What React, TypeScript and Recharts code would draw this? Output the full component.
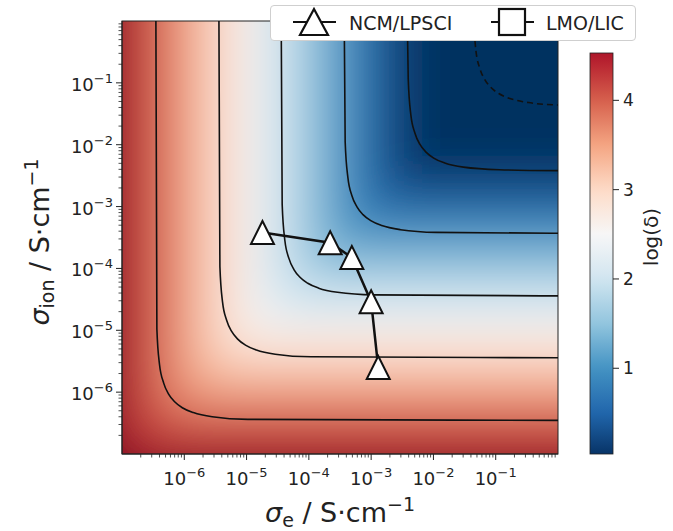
import React from 'react';
import { ComposedChart, Line, XAxis, YAxis, ReferenceArea } from 'recharts';

const FONT = '"DejaVu Sans", sans-serif';
const INK = '#222';

// axes (S/cm), both log
const sigmaDomain = [1e-7, 1];
const majorTicks = [1e-6, 1e-5, 1e-4, 1e-3, 1e-2, 1e-1];
const majorTickLabels = ['−6', '−5', '−4', '−3', '−2', '−1'];
const minorTicks: number[] = [];
for (let k = -7; k < 0; k++) {
  for (let m = 2; m < 10; m++) minorTicks.push(m * Math.pow(10, k));
}
const allTicks = [...minorTicks, ...majorTicks].sort((a, b) => a - b);

// NCM/LPSCI points
const ncmSigmaE = [1.8e-5, 2.2e-4, 4.9e-4, 1.0e-3, 1.3e-3];
const ncmSigmaIon = [3.8e-4, 2.6e-4, 1.5e-4, 2.9e-5, 2.5e-6];

// log(delta) at the map edge vs. log of the limiting conductivity
const profileLogSigma = [-7, -6.5, -6, -5.5, -5, -4.5, -4, -3.5, -3, -2.5, -2, -1.5, -1, -0.5, 0];
const profileLogDelta = [4.55, 4.05, 3.55, 3.05, 2.55, 2.05, 1.55, 1.05, 0.55, 0.05, -0.45, -0.95, -1.45, -1.95, -2.45];

// iso-lines of log(delta): [sigma_e, sigma_ion]
const contourLevels = [4, 3, 2, 1, 0, -1];
const contour4 = [[3.5e-7, 1], [3.63e-7, 1.05e-5], [4.0e-7, 2.8e-6], [4.67e-7, 1.4e-6], [5.6e-7, 9.3e-7], [7.0e-7, 7.0e-7], [9.3e-7, 5.6e-7], [1.4e-6, 4.67e-7], [2.8e-6, 4.0e-7], [1.05e-5, 3.63e-7], [1, 3.5e-7]];
const contour3 = [[3.6e-6, 1], [3.73e-6, 1.08e-4], [4.11e-6, 2.88e-5], [4.8e-6, 1.44e-5], [5.76e-6, 9.6e-6], [7.2e-6, 7.2e-6], [9.6e-6, 5.76e-6], [1.44e-5, 4.8e-6], [2.88e-5, 4.11e-6], [1.08e-4, 3.73e-6], [1, 3.6e-6]];
const contour2 = [[3.6e-5, 1], [3.73e-5, 1.08e-3], [4.11e-5, 2.88e-4], [4.8e-5, 1.44e-4], [5.76e-5, 9.6e-5], [7.2e-5, 7.2e-5], [9.6e-5, 5.76e-5], [1.44e-4, 4.8e-5], [2.88e-4, 4.11e-5], [1.08e-3, 3.73e-5], [1, 3.6e-5]];
const contour1 = [[3.7e-4, 1], [3.83e-4, 1.11e-2], [4.23e-4, 2.96e-3], [4.93e-4, 1.48e-3], [5.92e-4, 9.87e-4], [7.4e-4, 7.4e-4], [9.87e-4, 5.92e-4], [1.48e-3, 4.93e-4], [2.96e-3, 4.23e-4], [1.11e-2, 3.83e-4], [1, 3.7e-4]];
const contour0 = [[3.81e-3, 1], [3.94e-3, 0.114], [4.34e-3, 3.04e-2], [5.07e-3, 1.52e-2], [6.08e-3, 1.01e-2], [7.6e-3, 7.6e-3], [1.01e-2, 6.08e-3], [1.52e-2, 5.07e-3], [3.04e-2, 4.34e-3], [0.114, 3.94e-3], [1, 3.81e-3]];
const contourM1 = [[4.38e-2, 1], [4.8e-2, 0.336], [5.6e-2, 0.168], [6.72e-2, 0.112], [8.4e-2, 8.4e-2], [0.112, 6.72e-2], [0.168, 5.6e-2], [0.336, 4.8e-2], [1, 4.38e-2]];
const contourPaths = [contour4, contour3, contour2, contour1, contour0, contourM1];

// colour scale
const normRange = [0, 5];
const cbarRange = [0.04, 4.53];
const cbarTicks = [1, 2, 3, 4];
const rdbuR = ['#053061', '#2166ac', '#4393c3', '#92c5de', '#d1e5f0', '#f7f7f7', '#fddbc7', '#f4a582', '#d6604d', '#b2182b', '#67001f'];

const hex = (c: string) => [1, 3, 5].map((i) => parseInt(c.slice(i, i + 2), 16));
function cmap(v: number) {
  let t = (v - normRange[0]) / (normRange[1] - normRange[0]);
  t = Math.max(0, Math.min(1, t));
  const p = t * (rdbuR.length - 1);
  const i = Math.min(rdbuR.length - 2, Math.floor(p));
  const f = p - i;
  const a = hex(rdbuR[i]);
  const b = hex(rdbuR[i + 1]);
  return `rgb(${a.map((x, j) => Math.round(x + (b[j] - x) * f)).join(',')})`;
}
// value of the edge profile; straight continuation past the ends (only used in the blur margin)
function profileAt(s: number) {
  const n = profileLogSigma.length;
  let i = 0;
  while (i < n - 2 && s > profileLogSigma[i + 1]) i++;
  const s0 = profileLogSigma[i];
  const s1 = profileLogSigma[i + 1];
  const f = (s - s0) / (s1 - s0);
  return profileLogDelta[i] + f * (profileLogDelta[i + 1] - profileLogDelta[i]);
}

const logMin = Math.log10(sigmaDomain[0]);
const logMax = Math.log10(sigmaDomain[1]);

const ncmData = ncmSigmaE.map((e, i) => ({ e, ion: ncmSigmaIon[i] }));
const contourData = contourPaths.map((pts) => pts.map(([e, ion]) => ({ e, ion })));

const HeatShape = (props: any) => {
  const { x, y, width: w, height: h } = props;
  if (!(w > 0) || !(h > 0)) return null;
  const span = logMax - logMin;
  const m = 100;
  const k = h / w;
  const n = 80;
  const eStops = [];
  const ionStops = [];
  for (let i = 0; i <= n; i++) {
    const o = i / n;
    const px = x - m + o * (w + 2 * m);
    const sE = logMin + ((px - x) / w) * span;
    eStops.push(<stop key={i} offset={o} stopColor={cmap(profileAt(sE))} />);
    const py = y - m + o * (h + 2 * m);
    const sI = logMax - ((py - y) / h) * span;
    ionStops.push(<stop key={i} offset={o} stopColor={cmap(profileAt(sI))} />);
  }
  return (
    <g>
      <defs>
        <linearGradient id="gradSigmaE" gradientUnits="userSpaceOnUse" x1={x - m} y1={0} x2={x + w + m} y2={0}>
          {eStops}
        </linearGradient>
        <linearGradient id="gradSigmaIon" gradientUnits="userSpaceOnUse" x1={0} y1={y - m} x2={0} y2={y + h + m}>
          {ionStops}
        </linearGradient>
        <filter id="heatBlur" filterUnits="userSpaceOnUse" x={x - m} y={y - m} width={w + 2 * m} height={h + 2 * m}>
          <feGaussianBlur stdDeviation={26} />
        </filter>
        <clipPath id="heatClip">
          <rect x={x} y={y} width={w} height={h} />
        </clipPath>
      </defs>
      <g clipPath="url(#heatClip)">
        <g filter="url(#heatBlur)">
          <rect x={x - m} y={y - m} width={w + 2 * m} height={h + 2 * m} fill="url(#gradSigmaE)" />
          <polygon
            points={`${x - m},${y + h + m * k} ${x + w + m},${y + h + m} ${x + w + m},${y - m * k}`}
            fill="url(#gradSigmaIon)"
          />
        </g>
      </g>
      <rect x={x} y={y} width={w} height={h} fill="none" stroke={INK} strokeWidth={1} />
    </g>
  );
};

const CbarShape = (props: any) => {
  const { x, y, width, height } = props;
  if (!(width > 0) || !(height > 0)) return null;
  const n = 40;
  const stops = [];
  for (let i = 0; i <= n; i++) {
    const v = cbarRange[1] - ((cbarRange[1] - cbarRange[0]) * i) / n;
    stops.push(<stop key={i} offset={i / n} stopColor={cmap(v)} />);
  }
  return (
    <g>
      <defs>
        <linearGradient id="gradCbar" x1="0" y1="0" x2="0" y2="1">
          {stops}
        </linearGradient>
      </defs>
      <rect x={x} y={y} width={width} height={height} fill="url(#gradCbar)" stroke={INK} strokeWidth={0.8} />
    </g>
  );
};

const LogTick = (props: any) => {
  const { x, y, payload, axis } = props;
  const idx = majorTicks.indexOf(payload.value);
  const major = idx >= 0;
  const len = major ? 6 : 3.5;
  if (axis === 'x') {
    return (
      <g>
        <line x1={x} x2={x} y1={y} y2={y + len} stroke={INK} strokeWidth={major ? 1 : 0.8} />
        {major && (
          <text x={x} y={y + 31} textAnchor="middle" fontSize={18} fill={INK} fontFamily={FONT}>
            10<tspan dy={-8} fontSize={13}>{majorTickLabels[idx]}</tspan>
          </text>
        )}
      </g>
    );
  }
  return (
    <g>
      <line x1={x} x2={x - len} y1={y} y2={y} stroke={INK} strokeWidth={major ? 1 : 0.8} />
      {major && (
        <text x={x - 9} y={y + 8} textAnchor="end" fontSize={18} fill={INK} fontFamily={FONT}>
          10<tspan dy={-8} fontSize={13}>{majorTickLabels[idx]}</tspan>
        </text>
      )}
    </g>
  );
};

const TriangleDot = (props: any) => {
  const { cx, cy } = props;
  if (cx == null || cy == null) return null;
  const h = 11.5;
  return (
    <polygon
      points={`${cx},${cy - h} ${cx - h},${cy + h} ${cx + h},${cy + h}`}
      fill="#fff"
      stroke="#111"
      strokeWidth={2}
    />
  );
};

const Legend = () => (
  <div
    style={{
      position: 'absolute',
      left: 270,
      top: 5,
      width: 364,
      height: 34,
      border: '1px solid #cfcfcf',
      borderRadius: 4,
      background: '#fff',
    }}
  >
    <svg width={364} height={34} style={{ display: 'block' }}>
      <line x1={22} x2={65} y1={16} y2={16} stroke="#111" strokeWidth={2} />
      <polygon points="43,3 29,29 57,29" fill="#fff" stroke="#111" strokeWidth={2.2} />
      <text x={78} y={23.5} fontSize={19} fontFamily={FONT} fill={INK}>NCM/LPSCI</text>
      <line x1={220} x2={263} y1={16} y2={16} stroke="#111" strokeWidth={2} />
      <rect x={228} y={3} width={26} height={26} fill="#fff" stroke="#111" strokeWidth={2.2} />
      <text x={275} y={23.5} fontSize={19} fontFamily={FONT} fill={INK}>LMO/LIC</text>
    </svg>
  </div>
);

const cbarFrame = [{ x: 0 }, { x: 1 }];

export default function App() {
  return (
    <div style={{ position: 'absolute', left: 0, top: 0, width: 673, height: 531, background: '#fff', fontFamily: FONT }}>
      <ComposedChart width={673} height={531} margin={{ top: 21, right: 115, bottom: 0, left: 0 }}>
        <XAxis
          type="number"
          dataKey="e"
          scale="log"
          domain={sigmaDomain}
          allowDataOverflow
          ticks={allTicks}
          interval={0}
          tickLine={false}
          tickSize={0}
          tickMargin={0}
          height={77}
          axisLine={{ stroke: INK }}
          tick={(p: any) => <LogTick {...p} axis="x" />}
        />
        <YAxis
          type="number"
          dataKey="ion"
          scale="log"
          domain={sigmaDomain}
          allowDataOverflow
          ticks={allTicks}
          interval={0}
          tickLine={false}
          tickSize={0}
          tickMargin={0}
          width={122}
          axisLine={{ stroke: INK }}
          tick={(p: any) => <LogTick {...p} axis="y" />}
        />
        <ReferenceArea x1={sigmaDomain[0]} x2={sigmaDomain[1]} y1={sigmaDomain[0]} y2={sigmaDomain[1]} shape={HeatShape} />
        {contourData.map((pts, i) => (
          <Line
            key={i}
            data={pts}
            dataKey="ion"
            type="monotone"
            stroke="#111"
            strokeWidth={1.6}
            strokeDasharray={contourLevels[i] < 0 ? '6 4' : undefined}
            dot={false}
            activeDot={false}
            isAnimationActive={false}
          />
        ))}
        <Line
          data={ncmData}
          dataKey="ion"
          type="linear"
          stroke="#111"
          strokeWidth={2.5}
          dot={TriangleDot}
          activeDot={false}
          isAnimationActive={false}
        />
      </ComposedChart>

      <div style={{ position: 'absolute', left: 560, top: 0 }}>
        <ComposedChart width={113} height={531} data={cbarFrame} margin={{ top: 53, right: 0, bottom: 77, left: 30 }}>
          <XAxis type="number" dataKey="x" domain={[0, 1]} hide />
          <YAxis
            type="number"
            orientation="right"
            domain={cbarRange}
            allowDataOverflow
            ticks={cbarTicks}
            width={60}
            tickSize={6}
            tickMargin={4}
            axisLine={false}
            tickLine={{ stroke: INK }}
            tick={{ fontSize: 17, fill: INK, fontFamily: FONT }}
          />
          <ReferenceArea y1={cbarRange[0]} y2={cbarRange[1]} shape={CbarShape} ifOverflow="visible" />
        </ComposedChart>
      </div>

      <svg width={673} height={531} style={{ position: 'absolute', left: 0, top: 0, pointerEvents: 'none' }}>
        <text x={340} y={522} textAnchor="middle" fontSize={27} fontFamily={FONT} fill={INK}>
          <tspan fontStyle="italic">σ</tspan>
          <tspan dy={5} fontSize={19}>e</tspan>
          <tspan dy={-5}> / S·cm</tspan>
          <tspan dy={-11} fontSize={19}>−1</tspan>
        </text>
        <text transform="translate(49,242) rotate(-90)" textAnchor="middle" fontSize={27} fontFamily={FONT} fill={INK}>
          <tspan fontStyle="italic">σ</tspan>
          <tspan dy={5} fontSize={19}>ion</tspan>
          <tspan dy={-5}> / S·cm</tspan>
          <tspan dy={-11} fontSize={19}>−1</tspan>
        </text>
        <text transform="translate(658,237) rotate(-90)" textAnchor="middle" fontSize={20} fontFamily={FONT} fill={INK}>
          log(δ)
        </text>
      </svg>

      <Legend />
    </div>
  );
}
